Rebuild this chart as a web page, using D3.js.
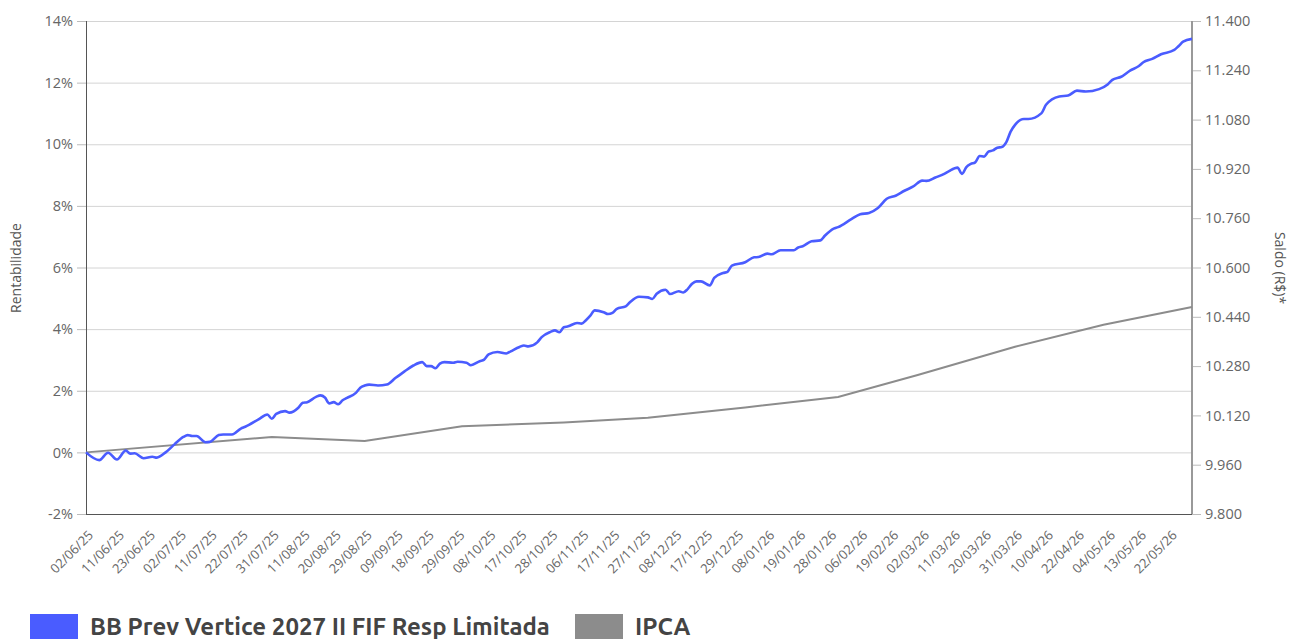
<!DOCTYPE html>
<html>
<head>
<meta charset="utf-8">
<script src="https://cdn.jsdelivr.net/npm/d3@7/dist/d3.min.js"></script>
<style>
  html, body { margin: 0; padding: 0; background: #fff; }
  svg { display: block; }
  text { font-family: "Open Sans", sans-serif; }
</style>
</head>
<body>
<svg id="chart" width="1289" height="639"></svg>
<script>
// ---- data (business-day index from 02/06/25) ----
const xTickLabels = ["02/06/25","11/06/25","23/06/25","02/07/25","11/07/25","22/07/25","31/07/25","11/08/25","20/08/25","29/08/25","09/09/25","18/09/25","29/09/25","08/10/25","17/10/25","28/10/25","06/11/25","17/11/25","27/11/25","08/12/25","17/12/25","29/12/25","08/01/26","19/01/26","28/01/26","06/02/26","19/02/26","02/03/26","11/03/26","20/03/26","31/03/26","10/04/26","22/04/26","04/05/26","13/05/26","22/05/26"];
const xTickIdx = [0,7,14,21,28,35,42,49,56,63,70,77,84,91,98,105,112,119,126,133,140,147,154,161,168,175,182,189,196,203,210,217,224,231,238,245];
const lastIdx = 250;

const fundIdx = [0,3,5,7,9,10,11,13,15,16,18,20,22,23,24,25,27,28,30,31,33,35,36,39,41,42,43,45,46,48,49,50,52,53,54,55,56,57,58,59,61,62,63,64,66,68,70,72,74,76,77,78,79,80,81,83,84,86,87,89,90,91,93,95,96,98,99,100,102,103,105,106,107,108,109,111,112,113,114,115,117,118,119,120,122,123,125,127,128,129,131,132,134,135,136,137,138,139,141,142,144,145,146,149,151,152,154,155,157,160,161,162,164,166,167,169,170,173,175,177,179,181,183,185,187,189,190,192,194,195,197,198,199,200,201,202,203,204,205,206,207,208,209,210,212,213,216,217,220,222,224,226,229,231,232,234,236,238,239,241,243,246,247,248,250];
const fundVal = [0,-0.25,-0.01,-0.23,0.06,-0.04,-0.03,-0.19,-0.14,-0.17,0.00,0.26,0.50,0.56,0.53,0.53,0.33,0.34,0.56,0.58,0.58,0.77,0.83,1.07,1.23,1.09,1.25,1.34,1.29,1.45,1.61,1.63,1.80,1.85,1.78,1.59,1.63,1.56,1.69,1.77,1.93,2.10,2.17,2.20,2.17,2.20,2.42,2.63,2.82,2.93,2.80,2.80,2.73,2.88,2.93,2.91,2.94,2.91,2.83,2.96,3.01,3.18,3.26,3.21,3.28,3.42,3.47,3.44,3.57,3.74,3.91,3.96,3.90,4.06,4.09,4.20,4.18,4.29,4.44,4.61,4.55,4.49,4.53,4.66,4.74,4.88,5.05,5.03,4.98,5.15,5.28,5.14,5.23,5.19,5.30,5.47,5.55,5.55,5.42,5.66,5.82,5.86,6.06,6.17,6.33,6.34,6.45,6.43,6.56,6.56,6.65,6.69,6.85,6.88,7.03,7.26,7.31,7.57,7.73,7.77,7.93,8.23,8.33,8.49,8.63,8.82,8.81,8.92,9.04,9.12,9.24,9.04,9.26,9.36,9.41,9.62,9.60,9.76,9.80,9.89,9.91,10.06,10.41,10.63,10.82,10.82,11.01,11.28,11.55,11.58,11.74,11.71,11.79,11.95,12.09,12.19,12.39,12.54,12.66,12.77,12.92,13.06,13.19,13.33,13.42];

const ipcaIdx = [0,42,63,85,108,127,149,170,188,210,230,250];
const ipcaVal = [0,0.50,0.37,0.85,0.97,1.12,1.46,1.80,2.51,3.43,4.14,4.72];

const leftTicks = [-2,0,2,4,6,8,10,12,14];
const rightTicks = [9800,9960,10120,10280,10440,10600,10760,10920,11080,11240,11400];

const seriesNames = ["BB Prev Vertice 2027 II FIF Resp Limitada","IPCA"];
const seriesColors = ["#4a5cff","#8c8c8c"];

// ---- layout ----
const svg = d3.select("#chart");
const L = 86, R = 1192, T = 21, B = 514;

const x = d3.scaleLinear().domain([0, lastIdx]).range([L, R]);
const y = d3.scaleLinear().domain([-2, 14]).range([B, T]);
const y2 = d3.scaleLinear().domain([9800, 11400]).range([B, T]);

// gridlines
svg.append("g").selectAll("line").data(leftTicks).join("line")
  .attr("x1", L).attr("x2", R)
  .attr("y1", d => y(d) + 0.5).attr("y2", d => y(d) + 0.5)
  .attr("stroke", "#d4d4d4").attr("stroke-width", 1);

// left axis
const gL = svg.append("g").attr("transform", `translate(${L},0)`)
  .call(d3.axisLeft(y).tickValues(leftTicks).tickSize(9).tickPadding(4).tickFormat(d => d + "%"));
gL.select(".domain").remove();
gL.selectAll(".tick line").attr("stroke", "#bbb");
gL.selectAll(".tick text").attr("fill", "#666").style("font-size", "14.5px").style("font-family", "Open Sans");

// right axis
const fmt = d3.formatLocale({decimal: ",", thousands: ".", grouping: [3], currency: ["R$", ""]}).format(",");
const gR = svg.append("g").attr("transform", `translate(${R},0)`)
  .call(d3.axisRight(y2).tickValues(rightTicks).tickSize(9).tickPadding(4).tickFormat(d => fmt(d)));
gR.select(".domain").remove();
gR.selectAll(".tick line").attr("stroke", "#bbb");
gR.selectAll(".tick text").attr("fill", "#666").style("font-size", "14.5px").style("font-family", "Open Sans");

// x axis labels
const gX = svg.append("g");
gX.selectAll("text").data(xTickIdx).join("text")
  .attr("transform", d => `translate(${x(d) + 8},${B + 22}) rotate(-45)`)
  .attr("text-anchor", "end")
  .attr("fill", "#666")
  .style("font-size", "13px")
  .text((d, i) => xTickLabels[i]);

// axis lines
svg.append("line").attr("x1", L + 0.5).attr("x2", L + 0.5).attr("y1", T).attr("y2", B)
  .attr("stroke", "#555").attr("stroke-width", 1);
svg.append("line").attr("x1", L).attr("x2", R).attr("y1", B + 0.5).attr("y2", B + 0.5)
  .attr("stroke", "#555").attr("stroke-width", 1);
svg.append("line").attr("x1", R).attr("x2", R).attr("y1", T).attr("y2", B)
  .attr("stroke", "#999").attr("stroke-width", 2);

// lines
const fundData = fundIdx.map((d, i) => [d, fundVal[i]]);
const ipcaData = ipcaIdx.map((d, i) => [d, ipcaVal[i]]);

svg.append("path").datum(ipcaData)
  .attr("fill", "none").attr("stroke", seriesColors[1]).attr("stroke-width", 2)
  .attr("d", d3.line().x(d => x(d[0])).y(d => y(d[1])));

svg.append("path").datum(fundData)
  .attr("fill", "none").attr("stroke", seriesColors[0]).attr("stroke-width", 2.6)
  .attr("stroke-linejoin", "round")
  .attr("d", d3.line().curve(d3.curveMonotoneX).x(d => x(d[0])).y(d => y(d[1])));

// axis titles
svg.append("text").attr("transform", `translate(21,268) rotate(-90)`)
  .attr("text-anchor", "middle").attr("fill", "#555").style("font-size", "14px").text("Rentabilidade");
svg.append("text").attr("transform", `translate(1275,268) rotate(90)`)
  .attr("text-anchor", "middle").attr("fill", "#555").style("font-size", "14px").text("Saldo (R$)*");

// legend
const legX = [30, 575];
const leg = svg.append("g");
seriesNames.forEach((n, i) => {
  leg.append("rect").attr("x", legX[i]).attr("y", 614).attr("width", 48).attr("height", 25).attr("fill", seriesColors[i]);
  leg.append("text").attr("x", legX[i] + 60).attr("y", 635)
    .attr("fill", "#444").style("font-family", "Ubuntu, 'Liberation Sans Narrow', sans-serif")
    .style("font-weight", "bold").style("font-size", "24px").text(n);
});
</script>
</body>
</html>
